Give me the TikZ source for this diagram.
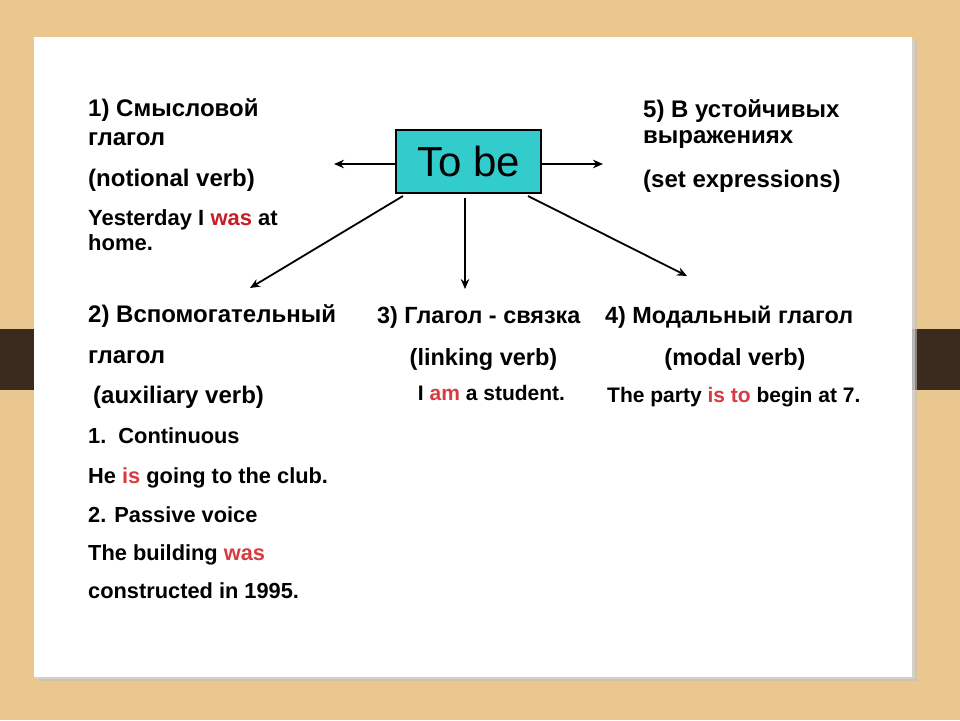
\documentclass[tikz,border=0pt]{standalone}
\usepackage{fontspec}
\setmainfont{Liberation Sans}
\usetikzlibrary{arrows.meta}
\definecolor{tan}{HTML}{EAC78F}
\definecolor{band}{HTML}{3B2B1F}
\definecolor{boxcyan}{HTML}{33CCCC}
\definecolor{redA}{HTML}{C41E26}
\definecolor{redB}{HTML}{D93A3F}
\tikzset{
  txt/.style={anchor=base west, inner sep=0pt, font=\fontsize{#1}{26}\selectfont\bfseries},
  txt/.default=24,
  ctxt/.style={anchor=base, inner sep=0pt, font=\fontsize{#1}{26}\selectfont\bfseries},
  ctxt/.default=23.5,
  arr/.style={line width=1.8pt, -{Stealth[length=10pt,width=8.5pt]}},
  mainbox/.style={draw=black, line width=2pt, fill=boxcyan, minimum width=145pt, minimum height=63pt, inner sep=0pt, font=\fontsize{42}{48}\selectfont}
}
\begin{document}
\begin{tikzpicture}[x=1pt,y=-1pt]
\useasboundingbox (0,0) rectangle (960,720);
% background
\fill[tan] (0,0) rectangle (960,720);
\fill[band] (0,329) rectangle (960,390);
% slide shadow and slide
\fill[black!25, opacity=0.6] (38,41) rectangle (917,681);
\fill[black!15, opacity=0.6] (36,39) rectangle (915,679);
\fill[white] (34,37) rectangle (912,677);
% central node
\node[mainbox] (box) at (468.5,161.5) {To be};
% arrow ends
\coordinate (tl) at (334,164);
\coordinate (tr) at (603,164);
\coordinate (sdl) at (403,196);
\coordinate (tdl) at (250,288);
\coordinate (sd) at (465,198);
\coordinate (td) at (465,289);
\coordinate (sdr) at (528,196);
\coordinate (tdr) at (687,276);
\draw[arr] (box.west |- tl) -- (tl);
\draw[arr] (box.east |- tr) -- (tr);
\draw[arr] (sdl) -- (tdl);
\draw[arr] (sd) -- (td);
\draw[arr] (sdr) -- (tdr);
% left column
\node[txt] (l1) at (88,116) {1) Смысловой};
\node[txt] (l2) at (88,145) {глагол};
\node[txt] (l3) at (88,186) {(notional verb)};
\node[txt=22] (l4) at (88,225) {Yesterday I \textcolor{redA}{was} at};
\node[txt=22] (l5) at (88,250) {home.};
% right column
\node[txt] (r1) at (643,117) {5) В устойчивых};
\node[txt] (r2) at (643,143) {выражениях};
\node[txt] (r3) at (643,187) {(set expressions)};
% bottom left
\node[txt] (b1) at (88,322) {2) Вспомогательный};
\node[txt] (b2) at (88,363) {глагол};
\node[txt] (b3) at (93,403) {(auxiliary verb)};
\node[txt=21.8] (b4) at (88,443) {1.\ \ Continuous};
\node[txt=21.8] (b5) at (88,483) {He \textcolor{redB}{is} going to the club.};
\node[txt=21.8] (b6) at (88,522) {2. Passive voice};
\node[txt=21.8] (b7) at (88,560) {The building \textcolor{redB}{was}};
\node[txt=21.8] (b8) at (88,598) {constructed in 1995.};
% middle
\node[txt=23.4] (m1) at (377,323) {3) Глагол - связка};
\node[ctxt] (m2) at (483.5,365) {(linking verb)};
\node[ctxt=21] (m3) at (491.5,400) {I \textcolor{redB}{am} a student.};
% right bottom
\node[txt=23.4] (n1) at (605,323) {4) Модальный глагол};
\node[ctxt] (n2) at (735,365) {(modal verb)};
\node[txt=21] (n3) at (607,402) {The party \textcolor{redB}{is to} begin at 7.};
\end{tikzpicture}
\end{document}
